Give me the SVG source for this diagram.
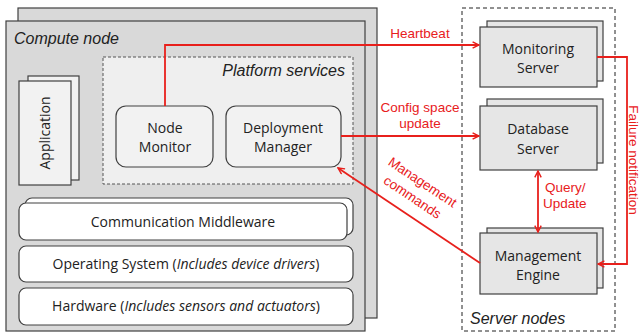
<svg xmlns="http://www.w3.org/2000/svg" width="642" height="333" viewBox="0 0 642 333">
<style>
.box{stroke:#404040;stroke-width:1.2}
.t{font-family:"Open Sans","Liberation Sans",sans-serif;font-size:14px;fill:#222;text-anchor:middle}
.it{font-family:"Liberation Sans",Arial,sans-serif;font-style:italic;font-size:16px;fill:#222}
.r{font-family:"Liberation Sans",Arial,sans-serif;font-size:13.5px;fill:#e8201c}
.c{stroke:#e8201c;stroke-width:1.8;fill:none}
</style>
<defs>
<marker id="ah" viewBox="0 0 10 10" refX="9" refY="5" markerWidth="8" markerHeight="8" orient="auto-start-reverse" markerUnits="userSpaceOnUse">
<path d="M1,1 L9,5 L1,9" fill="none" stroke="#e8201c" stroke-width="1.8"/>
</marker>
</defs>
<g id="compute-node">
<rect x="18" y="8" width="359" height="310" fill="#d9d9d9" class="box"/>
<rect x="6" y="21" width="359" height="310" fill="#d9d9d9" class="box"/>
<text x="14" y="44" class="it">Compute  node</text>
</g>
<g id="platform-services">
<rect x="103" y="57" width="250" height="127" fill="#efefef" stroke="#555" stroke-width="1" stroke-dasharray="3,2"/>
<text x="345" y="76" class="it" text-anchor="end">Platform services</text>
</g>
<g id="application">
<rect x="28" y="76" width="51" height="104" fill="#f2f2f2" class="box"/>
<rect x="19" y="81" width="52" height="104" fill="#f2f2f2" class="box"/>
<text transform="translate(50,133) rotate(-90)" class="t">Application</text>
</g>
<g id="node-monitor">
<rect x="116" y="106" width="97" height="61" rx="10" fill="#f2f2f2" class="box"/>
<text x="165" y="133" class="t">Node</text>
<text x="165" y="152" class="t">Monitor</text>
</g>
<g id="deployment-manager">
<rect x="226" y="106" width="115" height="61" rx="10" fill="#f2f2f2" class="box"/>
<text x="283" y="133" class="t">Deployment</text>
<text x="283" y="152" class="t">Manager</text>
</g>
<g id="communication-middleware">
<rect x="25" y="198" width="328" height="37" rx="7" fill="#fff" class="box"/>
<rect x="19" y="203" width="328" height="37" rx="7" fill="#fff" class="box"/>
<text x="183" y="227" class="t">Communication Middleware</text>
</g>
<g id="operating-system">
<rect x="19" y="246" width="334" height="36" rx="7" fill="#fff" class="box"/>
<text x="186" y="269" class="t">Operating System (<tspan font-style="italic">Includes device drivers</tspan>)</text>
</g>
<g id="hardware">
<rect x="19" y="288" width="334" height="37" rx="7" fill="#fff" class="box"/>
<text x="186" y="311" class="t">Hardware (<tspan font-style="italic">Includes sensors and actuators</tspan>)</text>
</g>
<g id="server-nodes">
<rect x="462" y="8" width="153" height="323" fill="none" stroke="#222" stroke-width="1" stroke-dasharray="4,3"/>
<text x="470" y="324" class="it">Server nodes</text>
</g>
<g id="monitoring-server">
<rect x="487" y="21" width="116" height="60" fill="#e6e6e6" class="box"/>
<rect x="480" y="27" width="117" height="60" fill="#e6e6e6" class="box"/>
<text x="538" y="54" class="t">Monitoring</text>
<text x="538" y="73" class="t">Server</text>
</g>
<g id="database-server">
<rect x="487" y="99" width="116" height="64" fill="#e6e6e6" class="box"/>
<rect x="480" y="106" width="117" height="64" fill="#e6e6e6" class="box"/>
<text x="538" y="134" class="t">Database</text>
<text x="538" y="154" class="t">Server</text>
</g>
<g id="management-engine">
<rect x="487" y="228" width="116" height="60" fill="#e6e6e6" class="box"/>
<rect x="480" y="233" width="117" height="61" fill="#e6e6e6" class="box"/>
<text x="538" y="261" class="t">Management</text>
<text x="538" y="280" class="t">Engine</text>
</g>
<g id="connectors">
<path d="M165,106 V45 H479" class="c" marker-end="url(#ah)"/>
<text x="420" y="38" class="r" text-anchor="middle">Heartbeat</text>
<path d="M341,136 H479" class="c" marker-end="url(#ah)"/>
<text x="420" y="112" class="r" text-anchor="middle">Config space</text>
<text x="420" y="128" class="r" text-anchor="middle">update</text>
<path d="M597,57 H627 V264 H598" class="c" marker-end="url(#ah)"/>
<text transform="translate(629,160) rotate(90)" class="r" text-anchor="middle">Failure notification</text>
<path d="M538,171 V232" class="c" marker-start="url(#ah)" marker-end="url(#ah)"/>
<text x="545" y="192" class="r">Query/</text>
<text x="543" y="208" class="r">Update</text>
<path d="M480,263 L338,168" class="c" marker-end="url(#ah)"/>
<text transform="translate(420,186) rotate(33.7)" class="r" text-anchor="middle">Management</text>
<text transform="translate(410,201) rotate(33.7)" class="r" text-anchor="middle">commands</text>
</g>
</svg>
